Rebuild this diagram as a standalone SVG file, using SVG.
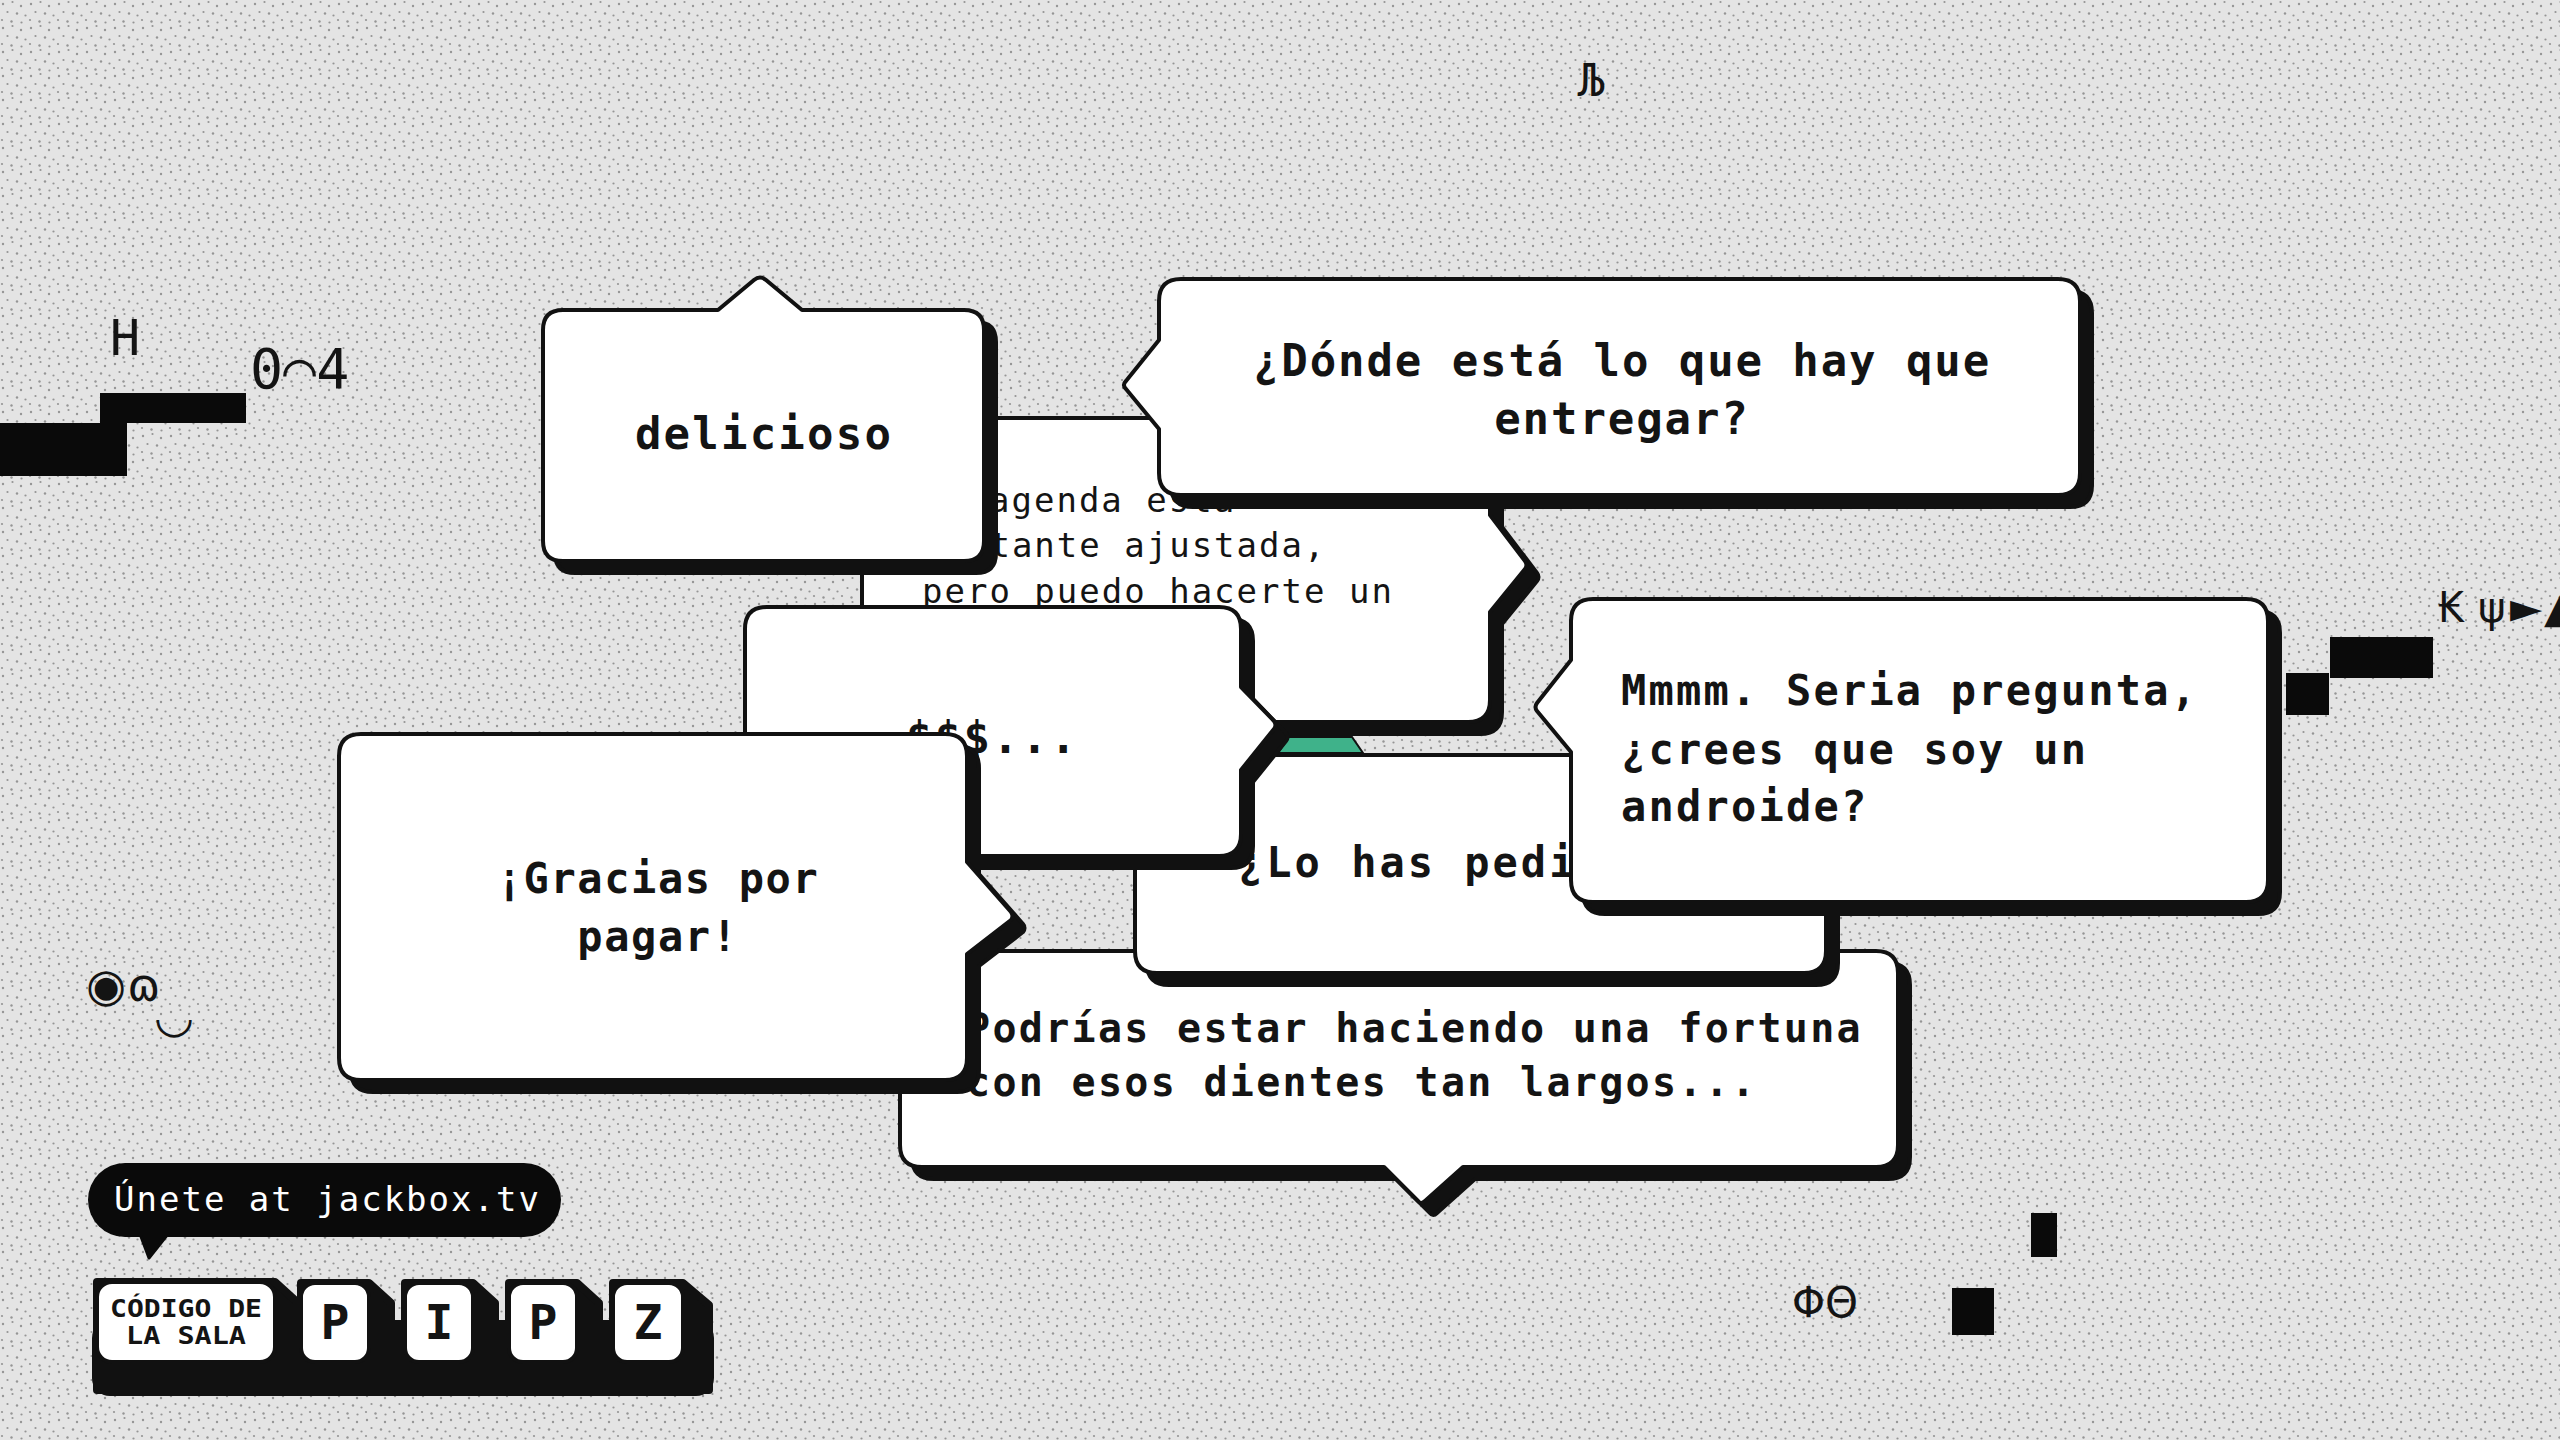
<svg xmlns="http://www.w3.org/2000/svg" xmlns:xlink="http://www.w3.org/1999/xlink" width="2560" height="1440" viewBox="0 0 2560 1440">
<style>
.bub{fill:#ffffff;stroke:#111111;stroke-width:4;stroke-linejoin:round}
.sh{fill:#111111;stroke:#111111;stroke-width:4;stroke-linejoin:round}
.bt{font-family:"DejaVu Sans Mono","Liberation Mono",monospace;font-weight:bold;fill:#141414}
.rt{font-family:"DejaVu Sans Mono","Liberation Mono",monospace;font-weight:normal;fill:#141414}
.gl{font-family:"DejaVu Sans Mono","DejaVu Sans",sans-serif;fill:#141414}
.gs{font-family:"DejaVu Sans",sans-serif;fill:#141414}
.blk{fill:#0a0a0a}
.tile{fill:#ffffff;stroke:#111111;stroke-width:4}
.tsh{fill:#111111;stroke:#111111;stroke-width:8;stroke-linejoin:round}
</style>
<defs>
<pattern id="dots" width="28" height="24" patternUnits="userSpaceOnUse">
<rect width="28" height="24" fill="#e4e4e4"/>
<g fill="#959595">
<circle cx="3" cy="4" r="1.2"/><circle cx="12.5" cy="2" r="1.1"/><circle cx="21" cy="6" r="1.2"/>
<circle cx="7.5" cy="12" r="1.1"/><circle cx="17" cy="13.5" r="1.2"/><circle cx="25.5" cy="15.5" r="1.1"/>
<circle cx="2" cy="20" r="1.1"/><circle cx="11.5" cy="21.5" r="1.2"/><circle cx="21.5" cy="22.5" r="1.1"/>
</g>
</pattern>
<path id="pA" d="M884,418 H1468 Q1490,418 1490,440 V515 L1525,561 Q1528,565 1525,569 L1490,612 V700 Q1490,722 1468,722 H884 Q862,722 862,700 V440 Q862,418 884,418 Z"/>
<path id="pD1" d="M563,310 H718 L754,280 Q760,275 766,280 L802,310 H964 Q984,310 984,330 V541 Q984,561 964,561 H563 Q543,561 543,541 V330 Q543,310 563,310 Z"/>
<path id="pD2" d="M1181,279 H2058 Q2080,279 2080,301 V473 Q2080,495 2058,495 H1181 Q1159,495 1159,473 V429 L1126,389 Q1122,385 1126,381 L1159,340 V301 Q1159,279 1181,279 Z"/>
<path id="pD5" d="M922,951 H1876 Q1898,951 1898,973 V1145 Q1898,1167 1876,1167 H1463 L1425,1201 Q1421,1205 1418,1201 L1384,1167 H922 Q900,1167 900,1145 V973 Q900,951 922,951 Z"/>
<path id="pD4" d="M1157,755 H1804 Q1826,755 1826,777 V951 Q1826,973 1804,973 H1157 Q1135,973 1135,951 V777 Q1135,755 1157,755 Z"/>
<path id="pB" d="M767,607 H1219 Q1241,607 1241,629 V687 L1274,721 Q1277,725 1274,729 L1241,770 V834 Q1241,856 1219,856 H767 Q745,856 745,834 V629 Q745,607 767,607 Z"/>
<path id="pD6" d="M361,734 H945 Q967,734 967,756 V862 L1011,912 Q1014,916 1011,920 L967,954 V1058 Q967,1080 945,1080 H361 Q339,1080 339,1058 V756 Q339,734 361,734 Z"/>
<path id="pD3" d="M1593,599 H2246 Q2268,599 2268,621 V880 Q2268,902 2246,902 H1593 Q1571,902 1571,880 V752 L1537,711 Q1534,707 1537,703 L1571,660 V621 Q1571,599 1593,599 Z"/>
</defs>

<rect id="background" width="2560" height="1440" fill="url(#dots)"/>

<g id="decor">
<polygon class="blk" points="0,423 100,423 100,393 246,393 246,423 127,423 127,476 0,476"/>
<text class="gl" x="110" y="355" font-size="50">H</text>
<text class="gl" x="250" y="388" font-size="55">0⌒4</text>
<text class="gl" x="1578" y="96" font-size="44">Љ</text>
<text class="gs" font-size="42" y="622"><tspan x="2438">₭</tspan><tspan x="2478">ψ</tspan><tspan x="2510">►</tspan><tspan x="2544">▲</tspan></text>
<rect class="blk" x="2330" y="637" width="103" height="41"/>
<rect class="blk" x="2286" y="673" width="43" height="42"/>
<text class="gs" font-size="46" y="1001"><tspan x="86">◉</tspan><tspan x="127">ɷ</tspan></text>
<text class="gs" x="154" y="1032" font-size="46">◡</text>
<text class="gs" x="1792" y="1317" font-size="42">ΦΘ</text>
<rect class="blk" x="2031" y="1213" width="26" height="44"/>
<rect class="blk" x="1952" y="1288" width="42" height="47"/>
<polygon fill="#3fb28a" stroke="#111111" stroke-width="2" points="1289,737 1352,737 1363,753 1278,753"/>
</g>

<g id="connectors"></g>

<g id="bubble-agenda">
<use xlink:href="#pA" class="sh" x="12" y="12"/>
<use xlink:href="#pA" class="bub"/>
<text class="rt" font-size="34" letter-spacing="2"><tspan x="989" y="512">agenda está</tspan><tspan x="922" y="557">bastante ajustada,</tspan><tspan x="922" y="603">pero puedo hacerte un</tspan></text>
</g>

<g id="bubble-delicioso">
<use xlink:href="#pD1" class="sh" x="12" y="12"/>
<use xlink:href="#pD1" class="bub"/>
<text class="bt" x="764" y="449" font-size="44" letter-spacing="2.2" text-anchor="middle">delicioso</text>
</g>

<g id="bubble-donde">
<use xlink:href="#pD2" class="sh" x="12" y="12"/>
<use xlink:href="#pD2" class="bub"/>
<text class="bt" font-size="44" letter-spacing="1.9" text-anchor="middle"><tspan x="1622" y="376">¿Dónde está lo que hay que</tspan><tspan x="1622" y="434">entregar?</tspan></text>
</g>

<g id="bubble-podrias">
<use xlink:href="#pD5" class="sh" x="12" y="12"/>
<use xlink:href="#pD5" class="bub"/>
<text class="bt" font-size="40" letter-spacing="2.3"><tspan x="966" y="1042">Podrías estar haciendo una fortuna</tspan><tspan x="966" y="1096">con esos dientes tan largos...</tspan></text>
</g>

<g id="bubble-lohas">
<use xlink:href="#pD4" class="sh" x="12" y="12"/>
<use xlink:href="#pD4" class="bub"/>
<text class="bt" x="1238" y="877" font-size="42" letter-spacing="3">¿Lo has pedi</text>
</g>

<g id="bubble-dinero">
<use xlink:href="#pB" class="sh" x="12" y="12"/>
<use xlink:href="#pB" class="bub"/>
<text class="bt" x="906" y="753" font-size="44" letter-spacing="2.3">$$$...</text>
</g>

<g id="bubble-gracias">
<use xlink:href="#pD6" class="sh" x="12" y="12"/>
<use xlink:href="#pD6" class="bub"/>
<text class="bt" font-size="42" letter-spacing="1.6" text-anchor="middle"><tspan x="658" y="893">¡Gracias por</tspan><tspan x="658" y="951">pagar!</tspan></text>
</g>

<g id="bubble-mmmm">
<use xlink:href="#pD3" class="sh" x="12" y="12"/>
<use xlink:href="#pD3" class="bub"/>
<text class="bt" font-size="42" letter-spacing="2.2"><tspan x="1621" y="705">Mmmm. Seria pregunta,</tspan><tspan x="1621" y="764">¿crees que soy un</tspan><tspan x="1621" y="821">androide?</tspan></text>
</g>

<g id="join-pill">
<rect x="88" y="1163" width="473" height="74" rx="37" fill="#0a0a0a"/>
<polygon points="140,1234 149,1258 168,1234" fill="#0a0a0a" stroke="#0a0a0a" stroke-width="3" stroke-linejoin="round"/>
<text x="114" y="1211" font-family="DejaVu Sans Mono, Liberation Mono, monospace" font-size="34" letter-spacing="2" fill="#ffffff">Únete at jackbox.tv</text>
</g>

<g id="room-code">
<rect x="92" y="1320" width="622" height="76" rx="18" fill="#111111"/>
<polygon class="tsh" points="97,1282 275,1282 297,1302 297,1390 97,1390"/>
<polygon class="tsh" points="301,1283 369,1283 391,1303 391,1390 301,1390"/>
<polygon class="tsh" points="405,1283 473,1283 495,1303 495,1390 405,1390"/>
<polygon class="tsh" points="509,1283 577,1283 599,1303 599,1390 509,1390"/>
<polygon class="tsh" points="613,1283 683,1283 709,1305 709,1390 613,1390"/>
<rect class="tile" x="97" y="1282" width="178" height="80" rx="15"/>
<rect class="tile" x="301" y="1283" width="68" height="79" rx="14"/>
<rect class="tile" x="405" y="1283" width="68" height="79" rx="14"/>
<rect class="tile" x="509" y="1283" width="68" height="79" rx="14"/>
<rect class="tile" x="613" y="1283" width="70" height="79" rx="14"/>
<text class="bt" font-size="25" text-anchor="middle"><tspan x="186" y="1317" textLength="152" lengthAdjust="spacingAndGlyphs">CÓDIGO DE</tspan><tspan x="186" y="1344" textLength="120" lengthAdjust="spacingAndGlyphs">LA SALA</tspan></text>
<text class="bt" font-size="48" text-anchor="middle" y="1339"><tspan x="335">P</tspan><tspan x="439">I</tspan><tspan x="543">P</tspan><tspan x="648">Z</tspan></text>
</g>
</svg>
